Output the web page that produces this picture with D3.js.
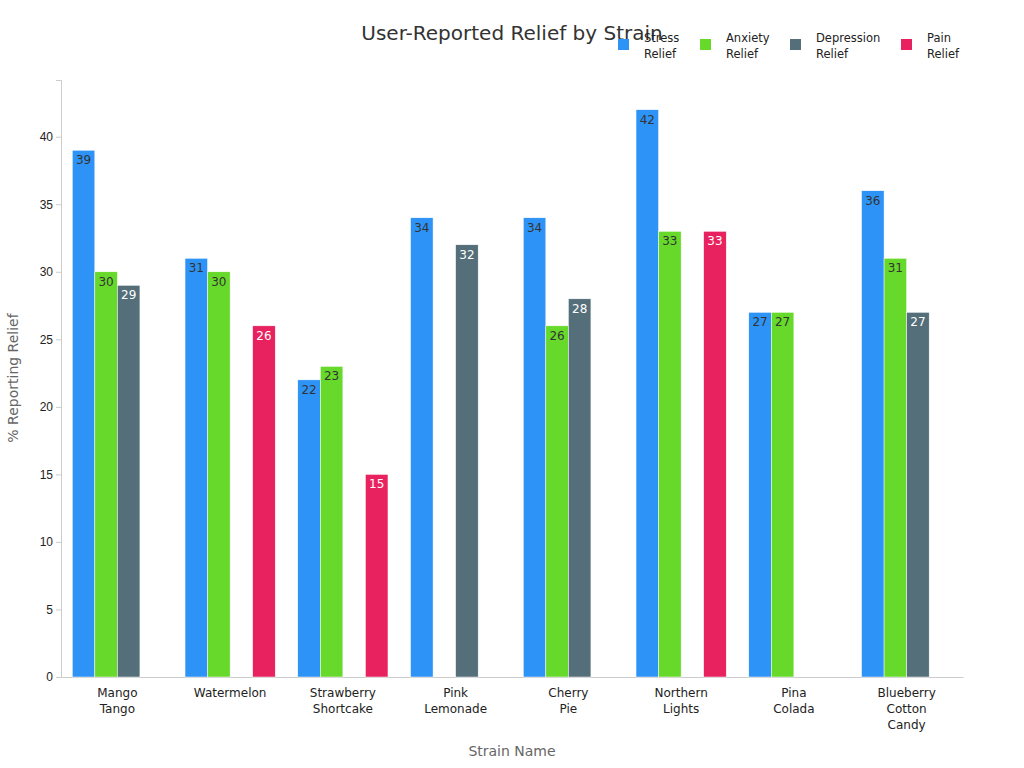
<!DOCTYPE html><html><head><meta charset="utf-8"><script src="https://cdn.jsdelivr.net/npm/d3@7"></script>
<style>body{margin:0;background:#fff;font-family:"DejaVu Sans",sans-serif}</style></head><body><svg width="1024" height="768"></svg>
<script>
const categories=[["Mango","Tango"],["Watermelon"],["Strawberry","Shortcake"],["Pink","Lemonade"],["Cherry","Pie"],["Northern","Lights"],["Pina","Colada"],["Blueberry","Cotton","Candy"]];
const seriesNames=[["Stress","Relief"],["Anxiety","Relief"],["Depression","Relief"],["Pain","Relief"]];
const colors=["#2e93f6","#66d92a","#546e7a","#e8225e"];
const labelColors=["#333","#333","#fff","#fff"];
const stress=[39,31,22,34,34,42,27,36];
const anxiety=[30,30,23,null,26,33,27,31];
const depression=[29,null,null,32,28,null,null,27];
const pain=[null,26,15,null,null,33,null,null];
const yTicks=[0,5,10,15,20,25,30,35,40];
const series=[stress,anxiety,depression,pain];
const svg=d3.select("svg");
const m={l:61,r:963,t:80,b:677};
const x=d3.scaleBand().domain(d3.range(categories.length)).range([m.l,m.r]).paddingInner(0.2).paddingOuter(0.1);
const x1=d3.scaleBand().domain(d3.range(4)).range([0,x.bandwidth()]);
const y=d3.scaleLinear().domain([0,44.2]).range([m.b,m.t]);
const ya=svg.append("g").attr("transform",`translate(${m.l},0)`).call(d3.axisLeft(y).tickValues(yTicks).tickSize(5));
ya.select(".domain").attr("stroke","#ccc");ya.selectAll(".tick line").attr("stroke","#ccc");
ya.selectAll("text").attr("font-size",12).attr("fill","#222");
const xa=svg.append("g").attr("transform",`translate(0,${m.b})`).call(d3.axisBottom(x).tickSize(0).tickFormat(""));
xa.select(".domain").attr("stroke","#ccc");
categories.forEach((c,i)=>{const t=svg.append("text").attr("x",x(i)+x.bandwidth()/2).attr("y",m.b+20).attr("text-anchor","middle").attr("font-size",12).attr("fill","#222");
c.forEach((l,j)=>t.append("tspan").attr("x",x(i)+x.bandwidth()/2).attr("dy",j?16:0).text(l));});
series.forEach((s,k)=>{s.forEach((v,i)=>{if(v==null)return;
const bx=x(i)+x1(k);
svg.append("rect").attr("x",bx).attr("y",y(v)).attr("width",x1.bandwidth()).attr("height",y(0)-y(v)).attr("fill",colors[k]).attr("stroke","#fff").attr("stroke-width",0.5);
svg.append("text").attr("x",bx+x1.bandwidth()/2).attr("y",y(v)+14).attr("text-anchor","middle").attr("font-size",12).attr("fill",labelColors[k]).text(v);});});
svg.append("text").attr("x",512).attr("y",40).attr("text-anchor","middle").attr("font-size",20).attr("fill","#333").text("User-Reported Relief by Strain");
svg.append("text").attr("x",512).attr("y",756).attr("text-anchor","middle").attr("font-size",14).attr("fill","#666").text("Strain Name");
svg.append("text").attr("transform","translate(18,378) rotate(-90)").attr("text-anchor","middle").attr("font-size",14).attr("fill","#666").text("% Reporting Relief");
const lx=[618,700,790,901];
seriesNames.forEach((n,k)=>{svg.append("rect").attr("x",lx[k]).attr("y",39).attr("width",11).attr("height",11).attr("fill",colors[k]);
const t=svg.append("text").attr("font-size",11.5).attr("fill","#222");
n.forEach((l,j)=>t.append("tspan").attr("x",lx[k]+26).attr("y",42+j*16).text(l));});
</script></body></html>
